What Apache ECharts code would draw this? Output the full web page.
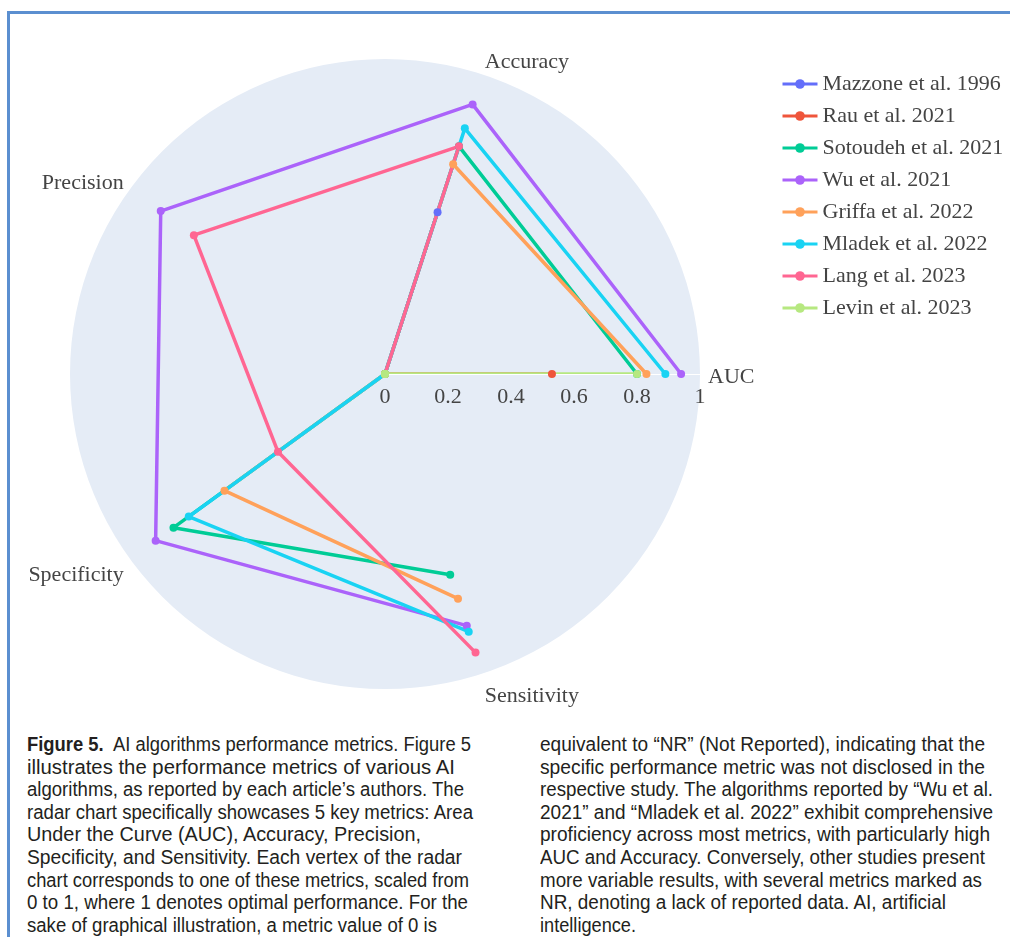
<!DOCTYPE html>
<html>
<head>
<meta charset="utf-8">
<script src="https://cdn.jsdelivr.net/npm/echarts@6/dist/echarts.min.js"></script>
<style>
  html, body { margin: 0; padding: 0; background: #ffffff; }
  body { width: 1010px; height: 937px; position: relative; overflow: hidden; }
  #frame {
    position: absolute; left: 7px; top: 11px; right: -10px; bottom: -10px;
    border-top: 3px solid #5b8fd0; border-left: 3px solid #5b8fd0;
  }
  #chart { position: absolute; left: 0; top: 0; width: 1010px; height: 720px; }
  .caption {
    position: absolute; top: 733px;
    font-family: "Liberation Sans", Arial, sans-serif;
    font-size: 20px; line-height: 22.6px; color: #231f20; white-space: nowrap;
  }
  .caption > div { height: 22.6px; }
  .caption span { display: inline-block; transform-origin: 0 50%; }
  .caption b { font-weight: bold; }
</style>
</head>
<body>
<div id="frame"></div>
<div id="chart"></div>
<div class="caption" id="capLeft" style="left:27px;">
<div><span><b>Figure 5.</b>&nbsp; AI algorithms performance metrics. Figure 5</span></div>
<div><span>illustrates the performance metrics of various AI</span></div>
<div><span>algorithms, as reported by each article’s authors. The</span></div>
<div><span>radar chart specifically showcases 5 key metrics: Area</span></div>
<div><span>Under the Curve (AUC), Accuracy, Precision,</span></div>
<div><span>Specificity, and Sensitivity. Each vertex of the radar</span></div>
<div><span>chart corresponds to one of these metrics, scaled from</span></div>
<div><span>0 to 1, where 1 denotes optimal performance. For the</span></div>
<div><span>sake of graphical illustration, a metric value of 0 is</span></div>
</div>
<div class="caption" id="capRight" style="left:540px;">
<div><span>equivalent to “NR” (Not Reported), indicating that the</span></div>
<div><span>specific performance metric was not disclosed in the</span></div>
<div><span>respective study. The algorithms reported by “Wu et al.</span></div>
<div><span>2021” and “Mladek et al. 2022” exhibit comprehensive</span></div>
<div><span>proficiency across most metrics, with particularly high</span></div>
<div><span>AUC and Accuracy. Conversely, other studies present</span></div>
<div><span>more variable results, with several metrics marked as</span></div>
<div><span>NR, denoting a lack of reported data. AI, artificial</span></div>
<div><span>intelligence.</span></div>
</div>
<script>
// Metrics around the radar, counter-clockwise from the right
const metrics = ['AUC', 'Accuracy', 'Precision', 'Specificity', 'Sensitivity'];
const radiusTicks = [0, 0.2, 0.4, 0.6, 0.8, 1];

// Reported values per study (0 = not reported)
const mazzone1996  = [0,    0.54, 0,    0,    0];
const rau2021      = [0.53, 0,    0,    0,    0];
const sotoudeh2021 = [0.80, 0.76, 0,    0.83, 0.67];
const wu2021       = [0.94, 0.90, 0.88, 0.90, 0.84];
const griffa2022   = [0.83, 0.70, 0,    0.63, 0.75];
const mladek2022   = [0.89, 0.82, 0,    0.77, 0.86];
const lang2023     = [0,    0.76, 0.75, 0.42, 0.93];
const levin2023    = [0.80, 0,    0,    0,    0];

const studies = [
  ['Mazzone et al. 1996', mazzone1996, '#636efa'],
  ['Rau et al. 2021', rau2021, '#EF553B'],
  ['Sotoudeh et al. 2021', sotoudeh2021, '#00cc96'],
  ['Wu et al. 2021', wu2021, '#ab63fa'],
  ['Griffa et al. 2022', griffa2022, '#FFA15A'],
  ['Mladek et al. 2022', mladek2022, '#19d3f3'],
  ['Lang et al. 2023', lang2023, '#FF6692'],
  ['Levin et al. 2023', levin2023, '#B6E880']
];

// Caption column line widths (condensed typesetting)
const captionLeftWidths  = [444, 428, 437, 446, 394, 435, 442, 441, 410];
const captionRightWidths = [445, 445, 453, 453, 450, 445, 442, 406, 96];

function fitCaption(id, widths) {
  document.querySelectorAll('#' + id + ' span').forEach((s, i) => {
    const w = s.getBoundingClientRect().width;
    if (w > 0 && widths[i]) s.style.transform = 'scaleX(' + (widths[i] / w).toFixed(4) + ')';
  });
}
fitCaption('capLeft', captionLeftWidths);
fitCaption('capRight', captionRightWidths);

const serif = '"Liberation Serif", "Times New Roman", serif';
const chart = echarts.init(document.getElementById('chart'), null, { renderer: 'canvas' });

// small vertical nudges for individual metric labels
const labelLineHeights = { AUC: 22, Accuracy: 10, Precision: 2, Specificity: 22, Sensitivity: 30 };

chart.setOption({
  animation: false,
  backgroundColor: 'transparent',
  polar: { center: [385, 374], radius: 315 },
  angleAxis: {
    type: 'category',
    data: metrics.map(m => ({ value: m, textStyle: { lineHeight: labelLineHeights[m] } })),
    startAngle: 0,
    clockwise: false,
    boundaryGap: false,
    axisLine: { show: false },
    axisTick: { show: false },
    axisLabel: {
      fontFamily: serif, fontSize: 22, color: '#444', margin: 8,
      formatter: v => (v === 'AUC' ? '{low|' + v + '}' : v),
      rich: { low: { fontFamily: serif, fontSize: 22, color: '#444', padding: [7, 0, 0, 0] } }
    },
    splitLine: { show: true, lineStyle: { color: '#ffffff', width: 1 } }
  },
  radiusAxis: {
    type: 'value',
    min: 0,
    max: 1,
    interval: 0.2,
    axisLine: { show: true, lineStyle: { color: '#ffffff', width: 1 } },
    axisTick: { show: false },
    axisLabel: {
      fontFamily: serif, fontSize: 22, color: '#444',
      margin: -12, verticalAlign: 'top',
      formatter: v => String(radiusTicks.find(t => Math.abs(t - v) < 1e-9) ?? v)
    },
    splitLine: { show: true, lineStyle: { color: '#ffffff', width: 1 } },
    splitArea: { show: true, areaStyle: { color: ['#e5ecf6'] } },
    z: 1
  },
  legend: {
    orient: 'vertical',
    left: 781,
    top: 73,
    padding: 0,
    itemWidth: 35,
    itemHeight: 12,
    itemGap: 10,
    lineStyle: { width: 3 },
    textStyle: { fontFamily: serif, fontSize: 22, color: '#444', lineHeight: 22 },
    data: studies.map(s => s[0])
  },
  series: studies.map(([name, vals, color]) => ({
    name,
    type: 'line',
    coordinateSystem: 'polar',
    data: vals.map((v, i) => [v, metrics[i]]),
    symbol: 'circle',
    symbolSize: 8,
    showSymbol: true,
    lineStyle: { width: 3.5, color, join: 'round' },
    itemStyle: { color },
    emphasis: { disabled: true }
  }))
});
</script>
</body>
</html>
